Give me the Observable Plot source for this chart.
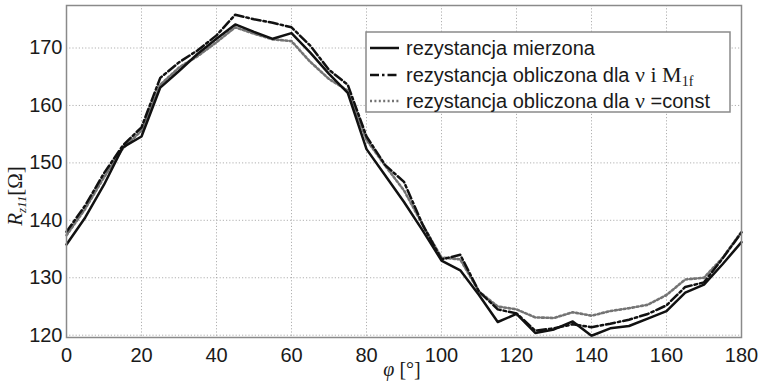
<!DOCTYPE html>
<html>
<head>
<meta charset="utf-8">
<script src="https://cdn.jsdelivr.net/npm/d3@7"></script>
<script src="https://cdn.jsdelivr.net/npm/@observablehq/plot@0.6"></script>
<style>
  html, body { margin: 0; padding: 0; background: #fff; }
  #wrap { position: relative; width: 758px; height: 384px; overflow: hidden; }
  #legend { position: absolute; left: 0; top: 0; pointer-events: none; }
</style>
</head>
<body>
<div id="wrap"></div>
<script>
// angle φ [°]
const phi = [0,5,10,15,20,25,30,35,40,45,50,55,60,65,70,75,80,85,90,95,100,105,110,115,120,125,130,135,140,145,150,155,160,165,170,175,180];
// rezystancja mierzona
const measured = [135.8,140.5,146.2,152.7,154.6,163.1,166,169,171.6,174.1,172.8,171.6,172.6,169.2,165.5,162.2,152.4,147.8,143.2,138.2,133,131.3,127,122.3,123.7,120.4,121,122.4,119.9,121.2,121.6,122.9,124.2,127.4,128.8,132.4,136.2];
// rezystancja obliczona dla ν i M1f
const calcNuM = [138,142.6,148.2,153,156.2,164.8,167.5,169.6,172.2,175.8,175,174.4,173.6,170.4,166.2,163.6,154.6,149.6,146.7,139.2,133.2,134,127.6,124.5,123.8,120.8,121.2,121.9,121.4,122,122.7,123.7,125.2,128.4,129.2,133.4,137.9];
// rezystancja obliczona dla ν = const
const calcNuConst = [137.4,142,147.5,152.5,155.6,163.6,166.6,168.6,171,173.6,172.5,171.5,171.2,167.6,164.6,162.6,154,149.5,145.2,139.2,133.5,133.2,127.6,125,124.5,123.1,123,124,123.4,124.2,124.7,125.3,127,129.7,130,133.5,138];

const xTicks = [0,20,40,60,80,100,120,140,160,180];
const yTicks = [120,130,140,150,160,170];

const rows = (ys) => phi.map((p, i) => ({phi: p, r: ys[i]}));

const chart = Plot.plot({
  width: 758,
  height: 384,
  marginLeft: 66,
  marginRight: 17,
  marginTop: 5,
  marginBottom: 47,
  style: {fontFamily: "'Liberation Sans', Arial, sans-serif", fontSize: "20px", color: "#1a1a1a", background: "#fff"},
  x: {domain: [0, 180], ticks: xTicks},
  y: {domain: [119.6, 177.4], ticks: yTicks},
  marks: [
    Plot.gridX(xTicks, {stroke: "#a8a8a8", strokeOpacity: 0.9, strokeDasharray: "1.2,2"}),
    Plot.gridY(yTicks, {stroke: "#a8a8a8", strokeOpacity: 0.9, strokeDasharray: "1.2,2"}),
    Plot.axisX(xTicks, {tickSize: 0, tickPadding: 10, label: null, fontSize: 20}),
    Plot.axisY(yTicks, {tickSize: 0, tickPadding: 4, label: null, fontSize: 20}),
    Plot.line(rows(calcNuConst), {x: "phi", y: "r", stroke: "#747474", strokeWidth: 2.6, strokeDasharray: "2,2.4"}),
    Plot.line(rows(calcNuM), {x: "phi", y: "r", stroke: "#111", strokeWidth: 2.5, strokeDasharray: "9,3,2.5,3"}),
    Plot.line(rows(measured), {x: "phi", y: "r", stroke: "#111", strokeWidth: 2.5}),
    Plot.frame({stroke: "#8a8a8a", strokeWidth: 1.5})
  ]
});
document.getElementById("wrap").appendChild(chart);

// axis labels and legend overlay
const ov = d3.select("#wrap").append("svg")
  .attr("id", "legend").attr("width", 758).attr("height", 384);

// y label
const yl = ov.append("text")
  .attr("transform", "translate(22,196) rotate(-90)")
  .attr("text-anchor", "middle")
  .style("font-family", "'Liberation Serif', 'Times New Roman', serif")
  .style("font-size", "21px").attr("fill", "#1a1a1a");
yl.append("tspan").style("font-style", "italic").text("R");
yl.append("tspan").style("font-style", "italic").style("font-size", "13px").attr("dy", 4).text("z11");
yl.append("tspan").attr("dy", -4).text("[Ω]");

// x label
const xl = ov.append("text")
  .attr("x", 402).attr("y", 376)
  .attr("text-anchor", "middle")
  .style("font-family", "'Liberation Serif', 'Times New Roman', serif")
  .style("font-size", "20px").attr("fill", "#1a1a1a");
xl.append("tspan").style("font-style", "italic").text("φ");
xl.append("tspan").text(" [°]");

// legend
const lg = ov.append("g");
lg.append("rect").attr("x", 366).attr("y", 32).attr("width", 364).attr("height", 80)
  .attr("fill", "#fff").attr("stroke", "#8a8a8a").attr("stroke-width", 1.5);
const items = [
  {dash: null, color: "#111"},
  {dash: "9,3,2.5,3", color: "#111"},
  {dash: "2,2.4", color: "#747474"}
];
const ly = [48, 75, 101];
items.forEach((it, i) => {
  const l = lg.append("line").attr("x1", 370).attr("x2", 399).attr("y1", ly[i]).attr("y2", ly[i])
    .attr("stroke", it.color).attr("stroke-width", 2.5);
  if (it.dash) l.attr("stroke-dasharray", it.dash);
});
const sans = "'Liberation Sans', Arial, sans-serif";
const serif = "'Liberation Serif', 'Times New Roman', serif";
const t1 = lg.append("text").attr("x", 406).attr("y", ly[0] + 7).style("font-family", sans).style("font-size", "20px").attr("fill", "#1a1a1a");
t1.text("rezystancja mierzona");
const t2 = lg.append("text").attr("x", 406).attr("y", ly[1] + 7).style("font-family", sans).style("font-size", "20px").attr("fill", "#1a1a1a");
t2.append("tspan").text("rezystancja obliczona dla ");
t2.append("tspan").style("font-family", serif).style("font-size", "22px").text("ν i M");
t2.append("tspan").style("font-family", serif).style("font-size", "14px").attr("dy", 4).text("1f");
const t3 = lg.append("text").attr("x", 406).attr("y", ly[2] + 7).style("font-family", sans).style("font-size", "20px").attr("fill", "#1a1a1a");
t3.append("tspan").text("rezystancja obliczona dla ");
t3.append("tspan").style("font-family", serif).style("font-size", "22px").text("ν ");
t3.append("tspan").text("=const");
</script>
</body>
</html>
